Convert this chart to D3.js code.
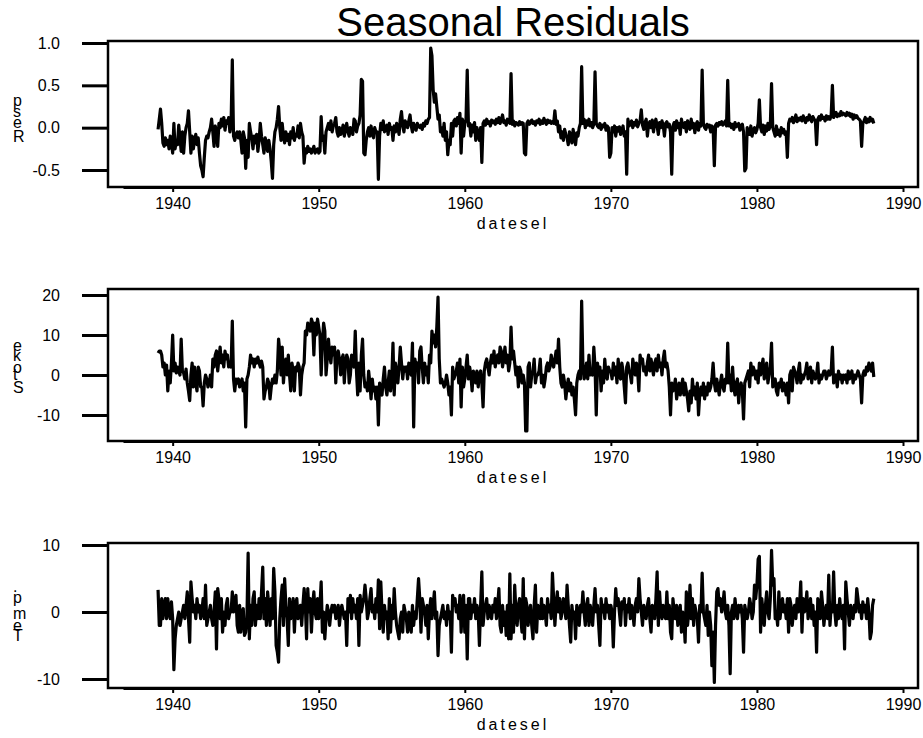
<!DOCTYPE html>
<html>
<head>
<meta charset="utf-8">
<script src="https://cdn.jsdelivr.net/npm/d3@7"></script>
<style>
body { margin: 0; background: #fff; }
text { font-family: "Liberation Sans", Arial, sans-serif; fill: #000; }
</style>
</head>
<body>
<div id="chart"></div>
<script>
// monthly series, Jan 1939 .. Jan 1988
var startYear = 1939;
var xTicks = [1940, 1950, 1960, 1970, 1980, 1990];
var respTicks = [-0.5, 0.0, 0.5, 1.0];
var stokeTicks = [-10, 0, 10, 20];
var tempTicks = [-10, 0, 10];
var seriesNames = ["Resp", "Stoke", "Temp."];
var xLabel = "datesel";
var title = "Seasonal Residuals";

var respValues = [
 -0.02, 0.10, 0.22, 0.05, -0.18, -0.22, -0.12, -0.20, -0.15, -0.25, -0.10, -0.18,
 -0.30, 0.05, -0.25, -0.15, -0.20, 0.03, -0.12, -0.28, -0.05, -0.30, -0.10, 0.00,
 0.05, 0.20, -0.05, -0.30, -0.10, -0.25, -0.15, -0.08, -0.20, -0.12, -0.30, -0.45,
 -0.50, -0.58, -0.35, -0.15, -0.10, -0.12, -0.05, 0.00, 0.10, -0.05, -0.22, 0.02,
 -0.05, -0.22, 0.05, 0.00, 0.10, 0.02, 0.12, -0.03, 0.08, 0.05, 0.12, -0.05,
 0.05, 0.80, -0.10, -0.15, -0.08, -0.05, -0.12, -0.05, -0.15, -0.30, -0.05, -0.12,
 -0.48, -0.15, -0.35, 0.05, -0.05, -0.12, -0.25, -0.10, -0.18, -0.08, -0.28, -0.15,
 0.05, -0.10, -0.20, -0.30, -0.12, -0.18, -0.28, -0.15, -0.25, -0.40, -0.60, -0.20,
 -0.05, 0.00, 0.10, 0.25, 0.00, -0.15, 0.05, -0.10, -0.18, -0.05, -0.15, -0.08,
 -0.20, -0.05, -0.12, 0.00, -0.15, -0.08, -0.10, 0.02, -0.12, 0.05, -0.05, -0.10,
 -0.42, -0.25, -0.30, -0.22, -0.28, -0.25, -0.30, -0.26, -0.22, -0.30, -0.27, -0.25,
 -0.30, -0.28, 0.13, -0.15, -0.10, -0.30, -0.05, 0.00, 0.05, -0.02, 0.08, -0.05,
 0.02, 0.05, 0.12, -0.05, -0.10, 0.00, -0.08, -0.05, 0.03, -0.10, -0.02, 0.05,
 -0.05, -0.10, 0.00, -0.03, -0.08, 0.10, 0.08, -0.05, 0.02, 0.05, 0.15, 0.57,
 0.55, -0.30, -0.32, -0.15, -0.05, 0.00, -0.10, 0.02, -0.08, -0.12, 0.00, -0.05,
 -0.05, -0.61, -0.10, 0.05, -0.02, 0.08, -0.05, 0.00, 0.03, -0.08, 0.05, -0.02,
 0.00, -0.15, 0.02, -0.05, 0.05, 0.00, -0.08, 0.10, 0.19, 0.02, -0.05, 0.08,
 0.05, 0.00, 0.08, 0.15, 0.02, -0.05, 0.05, 0.00, -0.03, 0.05, 0.02, 0.00,
 0.03, -0.02, 0.05, 0.02, 0.08, 0.05, 0.10, 0.12, 0.94, 0.85, 0.45, 0.30,
 0.40, 0.25, 0.10, 0.15, -0.05, 0.00, -0.10, 0.05, -0.15, -0.05, -0.32, -0.15,
 -0.20, 0.05, -0.10, 0.08, 0.10, 0.02, 0.12, 0.05, 0.17, -0.30, 0.10, -0.10,
 0.05, 0.10, 0.68, 0.02, 0.05, -0.10, 0.03, -0.05, 0.06, -0.15, 0.00, -0.08,
 -0.15, 0.00, -0.41, 0.05, 0.08, 0.03, 0.10, 0.05, 0.07, 0.02, 0.09, 0.06,
 0.08, 0.04, 0.10, 0.06, 0.12, 0.05, 0.09, 0.15, 0.06, 0.08, 0.03, 0.10,
 0.07, 0.05, 0.64, 0.04, 0.08, 0.02, 0.06, 0.05, 0.03, 0.07, 0.04, 0.06,
 0.05, -0.30, -0.32, 0.05, 0.08, 0.04, 0.06, 0.09, 0.05, 0.07, 0.03, 0.08,
 0.06, 0.10, 0.04, 0.08, 0.05, 0.11, 0.07, 0.04, 0.09, 0.06, 0.08, 0.05,
 0.07, 0.05, 0.20, 0.04, 0.08, -0.05, 0.02, -0.12, -0.05, -0.15, -0.02, -0.08,
 -0.12, -0.20, -0.05, -0.10, -0.18, -0.02, -0.12, -0.20, -0.06, -0.10, 0.00, 0.05,
 0.72, 0.05, 0.10, 0.00, 0.08, 0.03, 0.10, 0.02, 0.06, 0.00, 0.04, 0.66,
 0.05, 0.02, 0.00, 0.05, -0.02, 0.03, 0.01, 0.05, -0.03, 0.02, 0.00, -0.35,
 -0.30, 0.00, -0.05, 0.02, -0.10, 0.00, -0.04, 0.01, -0.08, -0.03, 0.02, -0.10,
 -0.05, -0.55, 0.10, 0.02, 0.05, 0.08, 0.00, 0.06, 0.03, 0.09, 0.01, 0.05,
 0.08, 0.21, 0.03, -0.02, 0.06, 0.10, -0.10, 0.04, 0.07, 0.00, 0.09, -0.05,
 0.05, 0.10, 0.02, -0.08, 0.06, 0.00, 0.08, 0.03, -0.10, 0.05, 0.07, 0.01,
 0.04, -0.05, -0.55, 0.02, 0.06, -0.03, 0.08, 0.00, 0.05, -0.08, 0.10, 0.02,
 0.00, 0.06, -0.05, 0.08, 0.02, -0.02, 0.10, 0.00, 0.05, -0.06, 0.04, 0.07,
 -0.03, 0.05, 0.02, 0.68, 0.05, 0.00, -0.02, 0.04, 0.01, 0.03, -0.05, 0.02,
 0.00, -0.45, 0.03, 0.05, 0.02, 0.06, 0.04, 0.07, 0.03, 0.05, 0.08, 0.02,
 0.56, 0.02, 0.05, 0.00, 0.04, -0.02, 0.06, 0.01, 0.03, 0.05, -0.03, 0.02,
 0.04, -0.05, -0.51, -0.48, 0.00, -0.05, -0.08, 0.02, -0.10, -0.03, 0.00, -0.06,
 -0.02, 0.05, 0.33, 0.00, -0.05, 0.03, -0.08, 0.02, -0.04, 0.05, -0.02, 0.03,
 0.52, 0.00, -0.05, -0.10, 0.02, -0.08, -0.03, -0.10, 0.00, -0.06, -0.02, -0.08,
 -0.05, -0.35, 0.05, 0.10, 0.08, 0.12, 0.06, 0.10, 0.15, 0.07, 0.11, 0.09,
 0.12, 0.08, 0.14, 0.10, 0.06, 0.12, 0.09, 0.15, 0.11, 0.07, 0.13, 0.10,
 0.08, -0.20, 0.10, 0.13, 0.09, 0.15, 0.11, 0.12, 0.08, 0.14, 0.10, 0.13,
 0.10, 0.15, 0.50, 0.12, 0.15, 0.18, 0.13, 0.16, 0.14, 0.19, 0.15, 0.17,
 0.16, 0.14, 0.18, 0.15, 0.17, 0.13, 0.16, 0.10, 0.15, 0.12, 0.14, 0.11,
 0.10, 0.08, -0.22, 0.05, 0.08, 0.12, 0.06, 0.10, 0.07, 0.12, 0.08, 0.10,
 0.05
];

var stokeValues = [
 5.5, 6, 6, 5, 2, 3, 0, 2.5, -4, 1, -2, 3,
 10, 1, 3, 0.5, 2, 1, 0, 9, 1, 0.5, -1, 1.5,
 -2, -4, -6.4, 0, 3, -3, 2, -2, -4, 2, 1, -3,
 -3, -7.7, -2, 0, -1, -3, -2, 0, -3, 4, 2, 5,
 6, 1, 4, 7, 3, 5, 2, 6, 4, 5, 2, 3,
 2, 13.5, -1, -4, -1, -2, -1, -3, -2, -1, -4, -2,
 -13, -1, 0, 2, 5, 3, 4, 2, 4, 3, 4.5, 3,
 2, 3.5, 2, -6, -4, -3, -1, -2, -6, -3, -1, -2,
 0, -2, 1, 9, 6, 0, 7, -2, 2, 4, 0, 5,
 0, -4, 3, 1, -4, 2, 1, 3, 2, -5, 0, 2,
 3, 11, 10, 13, 12, 11, 14, 13, 5, 13, 10, 14,
 12, 10, 0, 8, 13, 11, 0, 4, 9, 5, 3, 7,
 5, 7, -2, 5, 6, 4, 0, 4, 5, -2, 3, 5,
 4, -2, 0, 5, 3, 2, 11, 1, -5, 3, -4, 5,
 9, 0, -3, -2, -4, 1, -2, -6, -1, -4, -3, -6,
 -3, -12.5, -2, -4, -5, -1, 2, -3, -5, -2, 1, -4,
 -1, 8, -5, 3, 1, -2, 2, 7, 3, -1, 2, 1,
 2, -1, 3, 1, 0, 8, -13, 4, 2, 3, -2, 6,
 7, 2, -2, 3, 0, 2, -2, 5, 3, 11, 8, 10,
 7, 12, 19.5, 4, -2, -1, -2, -3, -2, 0, -2, -5,
 -3, -10, 2, -1, 0, 1, 3, -2, 4, -8, 2, -3,
 -1, 2, 5, -1, 2, 0, -4, 1, 0, -2, 1, -3,
 0, 1, -2, -8, 1, 3, 4, 2, 0, 3, 5, 3,
 6, 2, 4, 5, 3, 7, 6, 2, 4, 7, 3, 5,
 1, 3, 12, 4, 6, 3, 0, 2, -3, 2, 1, -2,
 0, -2, -14, -14, 2, 3, -3, 0, 1, 4, -2, 0,
 0, 1, 4, -2, 0, -3, -1, 2, 3, 1, 2, 5,
 3, 2, 4, 6, 3, 9, 2, -2, -3, 0, -2, -6,
 -3, -1, -4, -2, -5, -3, -6, -10, -2, 0, 1, -1,
 18.5, 3, -1, 0, 3, -1, 5, 0, 1, 0, 7, 2,
 -10, 3, 0, 2, -4, 1, -2, 4, 0, -1, 2, 1,
 1, -1, 3, 0, 2, -2, 4, 0, -1, 3, 1, -3,
 -7, 2, 3, 1, 0, -2, 4, 2, 0, 3, 1, -4,
 5, 3, 4, 1, 2, 0, 3, 5, 1, 4, 2, 0,
 3, 4, 1, 5, 2, 3, 0, 4, 6, 2, 3, 1,
 -3, -10, -2, -4, -3, -1, -6, -4, -2, -5, -3, -1,
 -5, -2, -4, -6, -9, -4, -7, -1, -5, -3, -6, -2,
 -10, -5, -3, -5, -2, -6, -3, -5, -2, -4, -3, -1,
 3, -2, -4, -1, -3, -5, -2, 0, -3, -4, -1, -2,
 8, -2, 0, -4, 2, -3, -5, -2, -1, -7, -3, -2,
 -4, -11, -2, -1, 0, 1, -3, 3, 0, 2, 1, -1,
 1, -2, 3, 0, 2, 4, -1, 1, 3, -2, 0, 2,
 8, -3, -2, -1, -4, -5, -2, -3, -1, -4, -2, -3,
 -5, -2, -7, 0, 1, -4, 2, 1, 0, -2, 1, 3,
 -2, 0, -1, 0, 1, 3, -1, 0, 2, -2, 1, 0,
 -1, 0, 3, -2, 0, -1, 0, 1, 1, -1, 0, 1,
 0, 1, 7, -2, -1, 0, -3, 1, -1, 0, -2, 0,
 -1, 0, -2, 1, -1, 0, 1, -2, 0, -1, 0, 1,
 0, -1, -7, 0, 1, 0, 2, 1, 3, 2, 1, 3,
 -0.5
];

var tempValues = [
 3.3, -2, -2, 2, -1, 1, 2, -1, 2, 0, -1, 1.5,
 -1, -8.6, -4, -2, -1, 0, -2, -1, 0, 1, -1, 1,
 3, -1, -4.5, 4.5, 2, 0, 1, -1, 2, 0, 1, -1,
 0, 2, -1, 4, -2, -1, 0, 1, -1, -2, 0, 3,
 -5.5, 3.5, 2, -1, 2, -3, 0, -2, 1, 2, -1, 0,
 0, 3, 0, 1, 2.5, -2, -3, 1, -3, 0, 0.5, -3.5,
 -3, -1, 8.8, -4, 1, -2, 2, 3, -2, 1, -1, 2,
 -1, 3, 6.7, -1, 2, -2, 3, 1, -2, 2, -1, 6.5,
 3, -5, -6, -7.5, -1, 2, 4, -2, 5, 1, -1, -5,
 2, -1, 0, 2, -3, 1, 2, -1, 0, 1, -2, 1,
 3.5, 1, -4, 3.5, 0, 2, -3, 1, 3, 0, -1, 2,
 -1, 1, 4.5, -3, 0, -4, -1, 1, 0, -2, 0, 1,
 0, 1, -1, 0, 1, -2, 0, 1, 0, -1, 0, -5,
 2, 0, 2.5, -1, 2, 0, 1, -1, 2, -5, 2.5, 0,
 1, 2, 4, 2, -1, 0, 2, 3.5, 0, 1, -1, 2,
 0, 4.8, -2.5, 4.5, 0, -3, 1, -1, 0, -4, 2, -3,
 1, -1, 3.5, 0, -2, -3, -4, -1, 0, -3, 1, 0,
 -1, -3, 0, -2, -3, 1, -2, 0, -1, 2, 5, 2,
 -3, 2, 1, 0, -2, 1, -4, 0, 2, -1, 1, 3,
 -1, 0, -6.5, -2, -1, 0, 1, -1, 0, -2, 1, -1,
 0, -6, 2.5, 1, 2, 0, 1, -1, 2.5, -3, 1, 2.5,
 -3, 1, -7, 2, 2, -1, 1, 0, 2, -1, 1, 0,
 -5, 1, 6, -2, 0, 1, 2, -1, 1, 0, -1, 1,
 0, 2, -1, 1, 3.5, -2, -3, 1, -2, 0, -3.5, 1,
 -4, 5.7, -4, 1, -3, 4, 0, -2, 1, 2, -1, -3,
 5, -4, 2, 1, -2, 0, 1, -2, -4, 1, 4, -3,
 1, 0, -1, 2, -1, 1, 0, -2, 2, 0, 1, -1,
 5.8, 2, -2, 1, 3, 0, 2, -1, 0, 2, 1, -1,
 4, 1, -2, -4.5, 1, -1, 0, -4, 1, 0, -2, 1,
 0, 3, 0, -2, 1, 2, -2, 1, 0, -2, 1, 3.5,
 0, 1, -2, -5, 2, 0, 1, -1, 2, 0, 1, -1,
 1, 0, -5.2, 0, 3.5, 1, 2, 0, -2, 1.5, 0.5, 2,
 -2, 1, 0, 2, -1, 1, 0, -2, 1, 2, 0, 5,
 2, 0, -2, 1, 0, -1, 1, 2, -1, -3, 1, 0,
 -1, 2, 6, -2, 3, 0, -1, 1, 0, -1, 3, -1,
 1, -3, -4, 2, 0, -1, 1, -2, 0, 1, -3, 0,
 -1, -4.5, 3, -2, 0, 4, -1, 2, -2, 1, 0, -1,
 -4.5, 1, 0, 5.8, 0, -1, -2, 1, -3.5, 0, -2, -8,
 -3, -10.5, -2, 3, 3.5, 1, 2, 0, 1, 3, 0, -1,
 1, -2, -9.2, 0, 1, -1, 2, 0, -1, 1, 0, 1,
 -1, -6, 1, 0, -1, 0, 2, 1, -1, 0, 4, 2,
 4, 7.9, 8.3, -3, 2, 0, -2, 1, 3, 0, -1, 2,
 9.2, 4, 5, -1, 0, -2, 3, -1, 1, 2, 0, 1,
 -1, 2, -3, 2, 1, -2, 0, 1, -1, 2, 0, 1,
 4.5, -3, 2, 0, 1, 3, -1, 0, 2, -1, 1, -2,
 0, -6, 2, 0, -1, 3, 1, -2, 0, 1, -1, 5.5,
 -2, 1, 0, 6, 0, -2, 1, -1, 2, 0, -1, 1,
 -5.5, 4.5, 2, 0, -2, 1, 0, -1, 1, 0, 3.5, 2,
 0, 1, -1, 1.5, 0, 1, -1, 2, 0, -4, -3, 1,
 2
];

var width = 923, height = 738;
var boxLeft = 108, boxRight = 918;
var charGap = 2.5;

// where the first and last y tick sit in each panel
var panels = [
    {name: seriesNames[0], values: respValues, ticks: respTicks, top: 41, bottom: 187, tickPix: [170, 43], labelBase: 142,
        fmt: function(d){ return d.toFixed(1); }},
    {name: seriesNames[1], values: stokeValues, ticks: stokeTicks, top: 289, bottom: 441, tickPix: [415, 295], labelBase: 393,
        fmt: function(d){ return String(d); }},
    {name: seriesNames[2], values: tempValues, ticks: tempTicks, top: 543, bottom: 688, tickPix: [679, 545], labelBase: 641,
        fmt: function(d){ return String(d); }}
];

var svg = d3.select("#chart").append("svg")
    .attr("width", width)
    .attr("height", height);

// x axis line starts a little left of 1940 in the original
var x = d3.scaleLinear()
    .domain([1936.6, 1990])
    .range([123, 903]);

svg.append("text")
    .attr("x", (boxLeft + boxRight) / 2)
    .attr("y", 36)
    .attr("text-anchor", "middle")
    .attr("font-size", "40px")
    .text(title);

panels.forEach(function(p){
    var t = p.ticks;
    var y = d3.scaleLinear()
        .domain([t[0], t[t.length - 1]])
        .range(p.tickPix);

    var g = svg.append("g");

    g.append("rect")
        .attr("x", boxLeft)
        .attr("y", p.top)
        .attr("width", boxRight - boxLeft)
        .attr("height", p.bottom - p.top)
        .attr("fill", "none")
        .attr("stroke", "#000")
        .attr("stroke-width", 2.5);

    var line = d3.line()
        .x(function(d, i){ return x(startYear + i / 12); })
        .y(function(d){ return y(d); });

    g.append("path")
        .datum(p.values)
        .attr("d", line)
        .attr("fill", "none")
        .attr("stroke", "#000")
        .attr("stroke-width", 3.2)
        .attr("stroke-linejoin", "round");

    var xa = g.append("g")
        .attr("transform", "translate(0," + p.bottom + ")")
        .call(d3.axisBottom(x).tickValues(xTicks).tickSize(5).tickSizeOuter(0).tickPadding(6)
            .tickFormat(function(d){ return String(d); }));
    xa.select(".domain").attr("stroke-width", 3);
    xa.selectAll(".tick line").attr("stroke-width", 2);
    xa.selectAll("text").attr("font-size", "16px").attr("font-family", null);

    var ya = g.append("g")
        .attr("transform", "translate(" + boxLeft + ",0)")
        .call(d3.axisLeft(y).tickValues(t).tickSize(26).tickPadding(22).tickFormat(p.fmt));
    ya.select(".domain").remove();
    ya.selectAll(".tick line").attr("stroke-width", 3);
    ya.selectAll("text").attr("font-size", "16px").attr("font-family", null);

    g.append("text")
        .attr("x", (boxLeft + boxRight) / 2)
        .attr("y", p.bottom + 42)
        .attr("text-anchor", "middle")
        .attr("font-size", "16px")
        .attr("letter-spacing", "3px")
        .text(xLabel);

    stackLabel(g, p.name, 13, p.labelBase);
});

// upright letters stacked upwards, the way the old device wrote rotated text
function stackLabel(sel, str, lx, yBase){
    var t = sel.append("text")
        .attr("x", lx)
        .attr("y", yBase)
        .attr("font-size", "16px")
        .text(str);
    var node = t.node(), ys = [], xs = [], yy = yBase;
    for (var i = 0; i < str.length; i++){
        ys.push(yy);
        xs.push(lx);
        yy -= node.getSubStringLength(i, 1) + charGap;
    }
    t.attr("x", xs.join(" ")).attr("y", ys.join(" "));
}
</script>
</body>
</html>
